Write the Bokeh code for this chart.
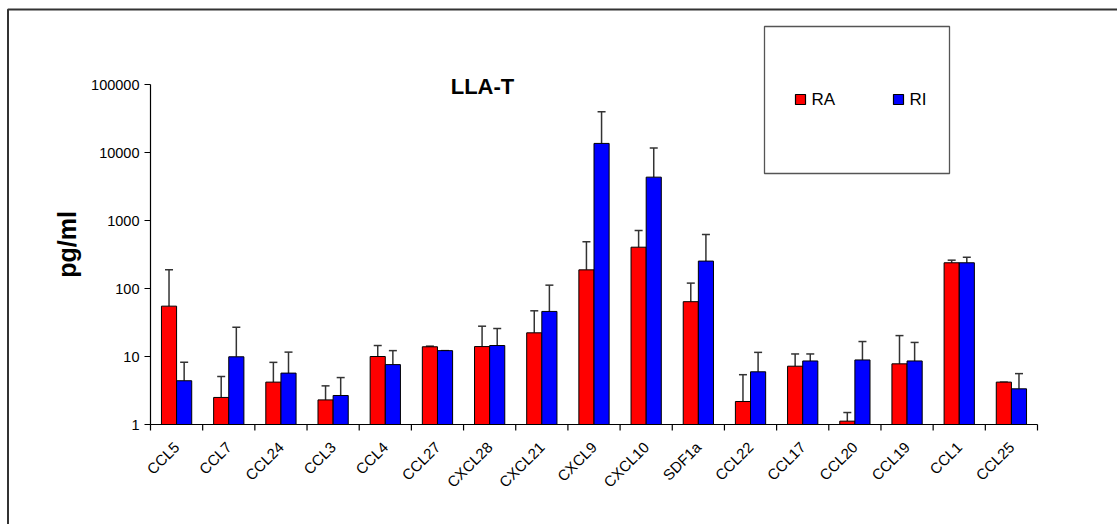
import math

from bokeh.core.properties import value
from bokeh.embed import file_html
from bokeh.models import BoxAnnotation, ColumnDataSource, Label, Range1d
from bokeh.plotting import figure
from bokeh.resources import INLINE

# Chemokine concentrations (pg/ml), mean and upper error bar end
categories = ["CCL5", "CCL7", "CCL24", "CCL3", "CCL4", "CCL27", "CXCL28",
              "CXCL21", "CXCL9", "CXCL10", "SDF1a", "CCL22", "CCL17", "CCL20",
              "CCL19", "CCL1", "CCL25"]
ra_mean = [55, 2.5, 4.2, 2.3, 10, 13.9, 14.0, 22.3, 188, 405, 64, 2.18, 7.2,
           1.12, 7.8, 239, 4.2]
ra_upper = [188, 5.1, 8.2, 3.7, 14.5, 14.2, 27.9, 47, 486, 712, 120, 5.4, 10.9,
            1.5, 20.3, 261, 4.2]
ri_mean = [4.4, 9.9, 5.7, 2.67, 7.6, 12.2, 14.5, 46, 13600, 4340, 253, 5.96,
           8.6, 8.9, 8.6, 239, 3.35]
ri_upper = [8.2, 27, 11.6, 4.9, 12.2, 12.2, 25.8, 112, 39600, 11600, 620, 11.5,
            10.9, 16.6, 16.1, 288, 5.6]
series_names = ["RA", "RI"]
series_colors = ["#ff0000", "#0000ff"]
y_ticks = [1, 10, 100, 1000, 10000, 100000]
y_tick_labels = ["1", "10", "100", "1000", "10000", "100000"]

FONT_NAME = "Liberation Sans"
FONT = value(FONT_NAME)
W, H = 1117, 524
# plot area inside the canvas (pixels)
AX_LEFT, AX_RIGHT, AX_TOP, AX_BOTTOM = 150, 1037, 84, 424

n = len(categories)
centers = [i + 0.5 for i in range(n)]
offset = 0.145
bar_w = 0.29

# the frame spans the whole canvas; ranges are widened so the value axes
# land on the plot area
px_per_cat = (AX_RIGHT - AX_LEFT) / n
lo_dec, hi_dec = math.log10(y_ticks[0]), math.log10(y_ticks[-1])
px_per_dec = (AX_BOTTOM - AX_TOP) / (hi_dec - lo_dec)
x_range = Range1d(-AX_LEFT / px_per_cat, n + (W - AX_RIGHT) / px_per_cat)
y_range = Range1d(10 ** (lo_dec - (H - AX_BOTTOM) / px_per_dec),
                  10 ** (hi_dec + AX_TOP / px_per_dec))

p = figure(width=W, height=H, output_backend="svg", toolbar_location=None,
           y_axis_type="log", x_range=x_range, y_range=y_range,
           x_axis_location=None, y_axis_location=None, min_border=0)
p.outline_line_color = None
p.xgrid.visible = False
p.ygrid.visible = False
p.background_fill_color = "white"
p.border_fill_color = "white"

# bars with upper error bars
for k, (means, uppers) in enumerate([(ra_mean, ra_upper), (ri_mean, ri_upper)]):
    xs = [c + (offset if k else -offset) for c in centers]
    src = ColumnDataSource(dict(x=xs, top=means, upper=uppers))
    p.segment(x0="x", y0="top", x1="x", y1="upper", source=src,
              line_color="#333333", line_width=1.5)
    p.scatter(x="x", y="upper", source=src, marker="dash", size=8,
              line_color="#333333", line_width=1.5)
    p.vbar(x="x", top="top", bottom=y_ticks[0], width=bar_w, source=src,
           fill_color=series_colors[k], line_color="black", line_width=1)

# axis lines
p.segment(x0=[0, 0], y0=[y_ticks[0], y_ticks[0]], x1=[n, 0],
          y1=[y_ticks[0], y_ticks[-1]], line_color="black", line_width=1.2)
# y ticks and labels
p.ray(x=0, y=y_ticks, length=6, length_units="screen", angle=math.pi,
      line_color="black", line_width=1.2)
p.text(x=0, y=y_ticks, text=y_tick_labels, x_offset=-11, text_align="right",
       text_baseline="middle", text_font=FONT, text_font_size="14.5px",
       text_color="black")
# x ticks between categories, slanted labels at category centres
p.ray(x=list(range(n + 1)), y=y_ticks[0], length=6, length_units="screen",
      angle=-math.pi / 2, line_color="black", line_width=1.2)
label_y = y_ticks[0] * 10 ** (-20 / px_per_dec)   # 20 px under the axis
p.text(x=centers, y=label_y, text=categories, angle=math.pi / 4,
       text_align="right", text_baseline="middle",
       text_font=FONT, text_font_size="15px", text_color="black")

# outer frame of the chart
p.add_layout(BoxAnnotation(left=7.5, right=W + 20, top=H - 9, bottom=-20,
                           left_units="screen", right_units="screen",
                           top_units="screen", bottom_units="screen",
                           fill_color=None, line_color="#333333",
                           line_alpha=1, line_width=2))

# title and y-axis label
p.add_layout(Label(x=482, y=H - 86, x_units="screen", y_units="screen",
                   text="LLA-T", text_font=FONT_NAME, text_color="black",
                   text_font_size="22px", text_font_style="bold",
                   text_align="center", text_baseline="middle"))
p.add_layout(Label(x=66, y=H - 244, x_units="screen", y_units="screen",
                   text="pg/ml", text_font=FONT_NAME, text_color="black",
                   text_font_size="25px", text_font_style="bold",
                   text_align="center", text_baseline="middle",
                   angle=math.pi / 2))

# legend box
p.add_layout(BoxAnnotation(left=764, right=949, top=H - 26, bottom=H - 173,
                           left_units="screen", right_units="screen",
                           top_units="screen", bottom_units="screen",
                           fill_color="white", fill_alpha=1,
                           line_color="#555555", line_alpha=1,
                           line_width=1.3))
for k, (name, color) in enumerate(zip(series_names, series_colors)):
    sx = 795 + k * 98
    p.add_layout(BoxAnnotation(left=sx, right=sx + 10, top=H - 94,
                               bottom=H - 104,
                               left_units="screen", right_units="screen",
                               top_units="screen", bottom_units="screen",
                               fill_color=color, fill_alpha=1,
                               line_color="black", line_alpha=1,
                               line_width=1.2))
    p.add_layout(Label(x=sx + 16, y=H - 99, x_units="screen", y_units="screen",
                       text=name, text_font=FONT_NAME, text_color="black",
                       text_font_size="17px", text_baseline="middle"))

open("out.html", "w").write(file_html(p, INLINE))
